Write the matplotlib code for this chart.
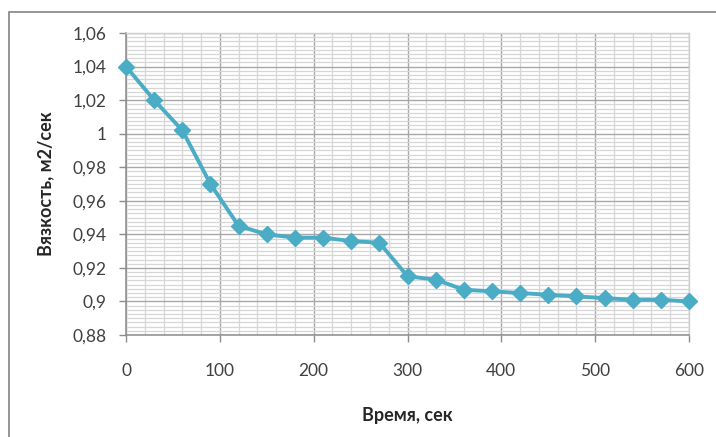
import numpy as np
import matplotlib.pyplot as plt
from matplotlib.ticker import MultipleLocator, FuncFormatter
from matplotlib.patches import Rectangle

time_s = [0, 30, 60, 90, 120, 150, 180, 210, 240, 270, 300,
          330, 360, 390, 420, 450, 480, 510, 540, 570, 600]
viscosity = [1.04, 1.02, 1.002, 0.97, 0.945, 0.94, 0.938, 0.938, 0.936, 0.935, 0.915,
             0.913, 0.907, 0.906, 0.905, 0.904, 0.903, 0.902, 0.901, 0.901, 0.900]

x_label = "Время, сек"
y_label = "Вязкость, м2/сек"

plt.rcParams["font.family"] = ["Lato", "DejaVu Sans"]

fig = plt.figure(figsize=(7.16, 4.37), dpi=100)
ax = fig.add_axes([126 / 716, 1 - 335 / 437, (689 - 126) / 716, (335 - 33) / 437])

# chart area border (cut off at right and bottom like the reference)
fig.patches.append(Rectangle((8.5 / 716, -0.05), 1.1, 1 - 11.5 / 437 + 0.05,
                             transform=fig.transFigure, fill=False,
                             edgecolor="#8c8c8c", linewidth=1.3))

ax.plot(time_s, viscosity, color="#4BACC6", linewidth=2.8, marker="D",
        markersize=8.5, markeredgecolor="#4BACC6", zorder=3, clip_on=False)

ax.set_xlim(0, 600)
ax.set_ylim(0.88, 1.06)
ax.xaxis.set_major_locator(MultipleLocator(100))
ax.xaxis.set_minor_locator(MultipleLocator(20))
ax.yaxis.set_major_locator(MultipleLocator(0.02))
ax.yaxis.set_minor_locator(MultipleLocator(0.0025))


def comma_fmt(v, pos):
    s = f"{v:.2f}".rstrip("0").rstrip(".")
    return s.replace(".", ",")


ax.yaxis.set_major_formatter(FuncFormatter(comma_fmt))

ax.grid(which="major", color="#a8a8a8", linewidth=1.0)
ax.grid(which="minor", color="#d6d6d6", linewidth=0.9)
ax.set_axisbelow(True)

ax.tick_params(axis="both", which="major", labelsize=12.5, colors="#8c8c8c",
               labelcolor="#404040", length=5, width=1)
ax.tick_params(axis="y", which="major", pad=9)
ax.tick_params(axis="x", which="major", pad=15)
ax.tick_params(which="minor", length=0)

for side in ["left", "bottom"]:
    ax.spines[side].set_color("#8c8c8c")
    ax.spines[side].set_linewidth(1.1)
for side in ["top", "right"]:
    ax.spines[side].set_color("#cfcfcf")
    ax.spines[side].set_linewidth(1.0)

ax.set_xlabel(x_label, fontsize=13, fontweight="bold", color="#262626", labelpad=20)
ax.set_ylabel(y_label, fontsize=13, fontweight="bold", color="#262626", labelpad=13)

fig.savefig("out.png", dpi=100, facecolor="white")
